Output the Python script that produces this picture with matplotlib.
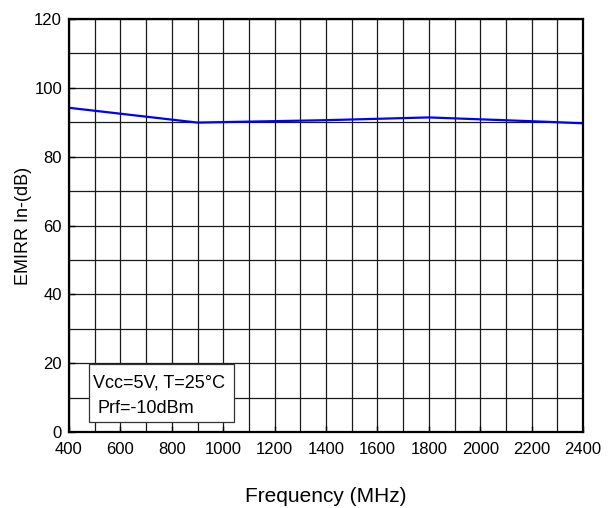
import matplotlib.pyplot as plt
import matplotlib.patches as patches
from matplotlib import font_manager
import numpy as np

# data
freq = [400, 900, 1400, 1800, 2200, 2400]
emirr = [94.2, 89.9, 90.6, 91.4, 90.3, 89.7]
x_ticks = [400, 600, 800, 1000, 1200, 1400, 1600, 1800, 2000, 2200, 2400]
y_ticks = [0, 20, 40, 60, 80, 100, 120]

plt.rcParams['font.family'] = ['Liberation Sans', 'DejaVu Sans']
names = {f.name for f in font_manager.fontManager.ttflist}
tick_font = 'Liberation Sans Narrow' if 'Liberation Sans Narrow' in names else 'Liberation Sans'
tick_size = 13 if tick_font == 'Liberation Sans Narrow' else 12

fig = plt.figure(figsize=(6.14, 5.08), dpi=100)
ax = fig.add_axes([69 / 614, 1 - 432 / 508, 514 / 614, 413 / 508])

# grid every 100 MHz / 10 dB
for xv in np.arange(400, 2401, 100):
    ax.axvline(xv, color='#1a1a1a', lw=0.9, zorder=1)
for yv in np.arange(0, 121, 10):
    ax.axhline(yv, color='#1a1a1a', lw=0.9, zorder=1)

ax.plot(freq, emirr, color='#0000FF', lw=1.6, zorder=3)

ax.set_xlim(400, 2400)
ax.set_ylim(0, 120)
ax.set_xticks(x_ticks)
ax.set_yticks(y_ticks)
ax.tick_params(direction='in', length=4, width=1)
ax.tick_params(axis='x', pad=7)
ax.tick_params(axis='y', pad=5)
for lab in ax.get_xticklabels() + ax.get_yticklabels():
    lab.set_fontfamily(tick_font)
    lab.set_fontsize(tick_size)
for s in ax.spines.values():
    s.set_linewidth(1.6)
    s.set_zorder(4)

ax.set_xlabel('Frequency (MHz)', fontsize=15)
ax.xaxis.set_label_coords(0.5, -0.133)
ax.set_ylabel('EMIRR In-(dB)', fontsize=13)
ax.yaxis.set_label_coords(-0.072, 0.5)

# condition box
ax.add_patch(patches.Rectangle((0.039, 0.024), 0.282, 0.141, transform=ax.transAxes,
                               facecolor='white', edgecolor='#333333', lw=0.9, zorder=5))
ax.text(0.047, 0.1186, 'Vcc=5V, T=25°C', transform=ax.transAxes, fontsize=13,
        ha='left', va='center', zorder=6)
ax.text(0.0545, 0.058, 'Prf=-10dBm', transform=ax.transAxes, fontsize=13,
        ha='left', va='center', zorder=6)

fig.savefig('out.png', dpi=100)
